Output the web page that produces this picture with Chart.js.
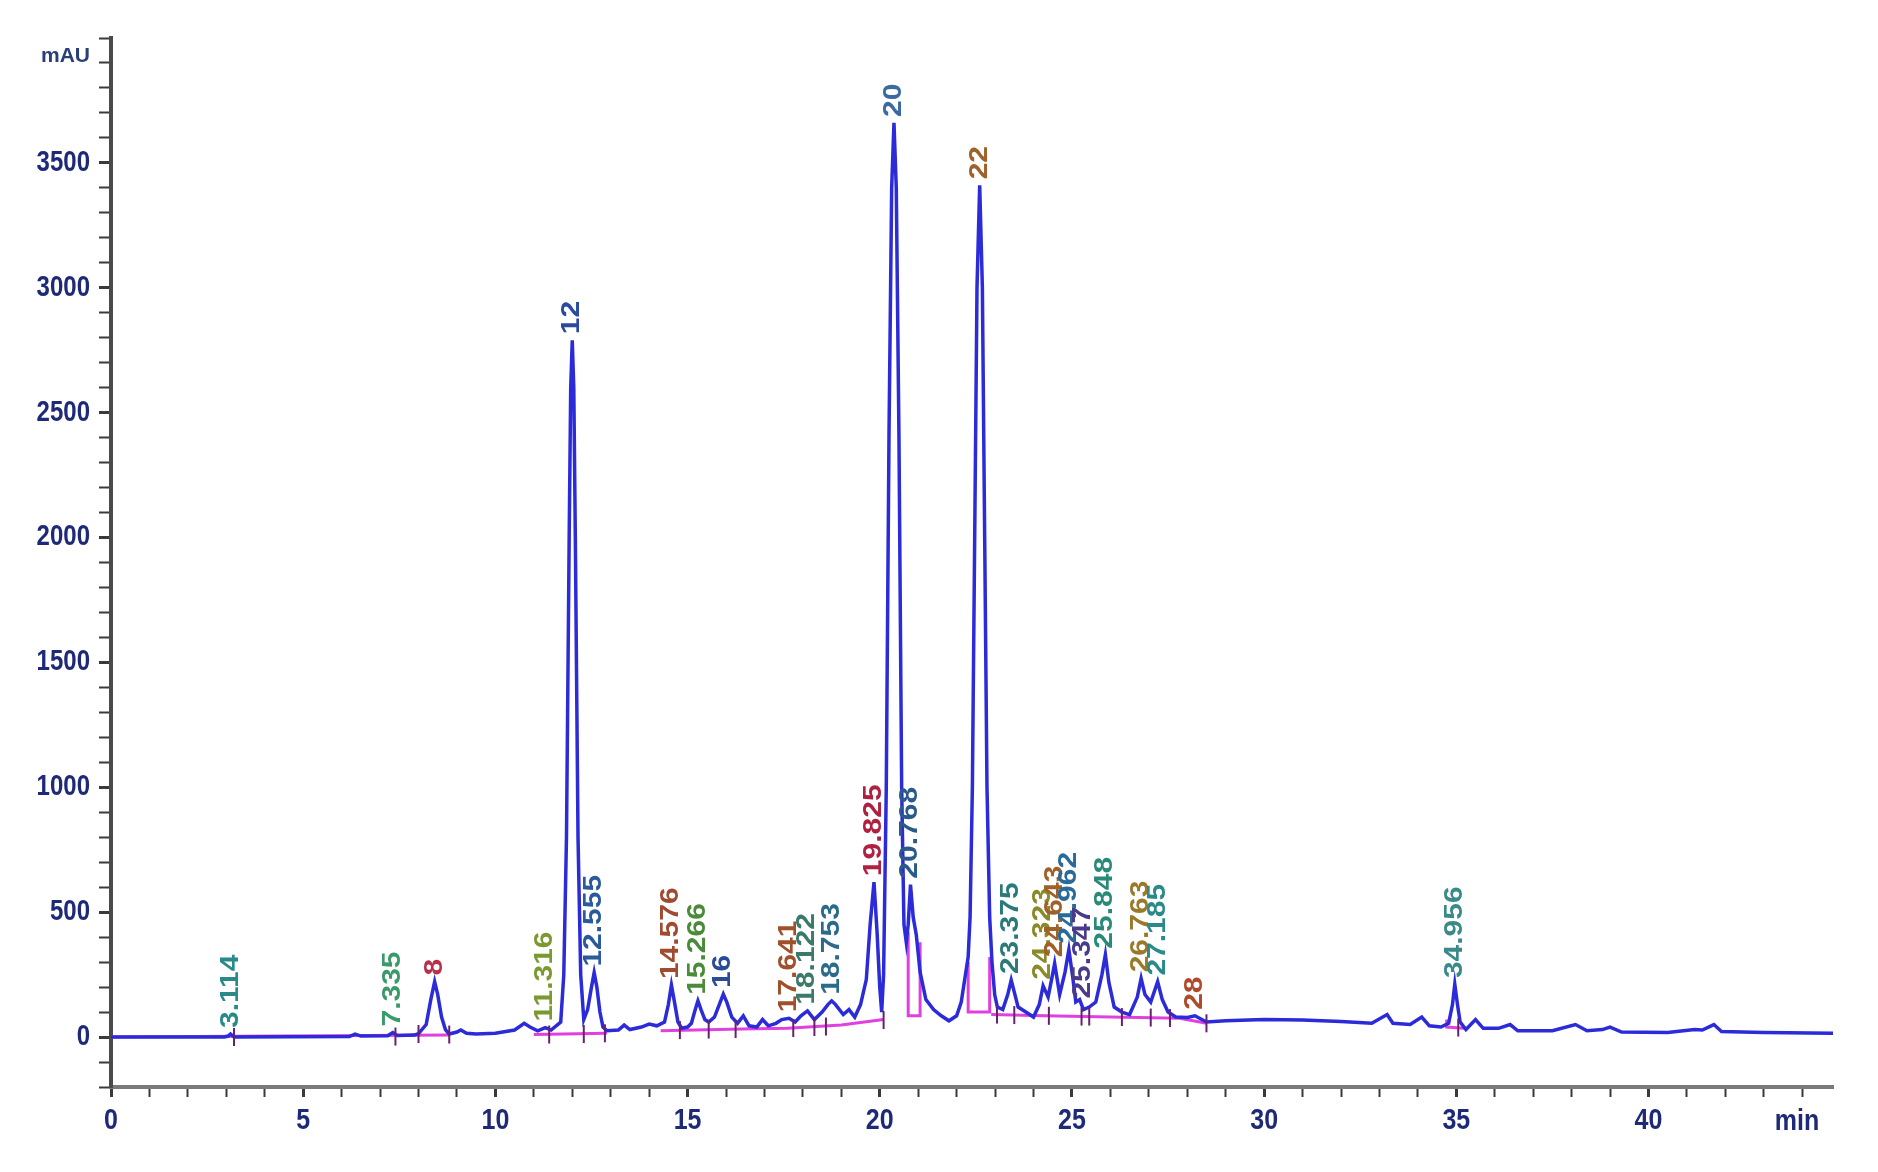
<!DOCTYPE html>
<html lang="fr">
<head>
<meta charset="utf-8">
<title>Chromatogramme HPLC</title>
<script src="https://cdn.jsdelivr.net/npm/chart.js@4.4.1/dist/chart.umd.min.js"></script>
<style>
    html, body { margin: 0; padding: 0; background: #ffffff; }
    canvas { display: block; }
</style>
</head>
<body>
<canvas id="chromatogramme" width="1878" height="1172"></canvas>
<script>
// ==========================================
//  DONNÉES DU SIGNAL (lues sur le chromatogramme)
// ==========================================
const temps = [
    0, 2.95, 3.05, 3.11, 3.2, 6.2, 6.35, 6.5, 7.2, 7.33, 7.45, 7.9, 8.0, 8.2, 8.32, 8.42, 8.5, 8.6, 8.7, 8.8,
    9.0, 9.1, 9.25, 9.5, 10.0, 10.5, 10.75, 10.9, 11.1, 11.3, 11.45, 11.7, 11.78, 11.85, 11.92, 11.96, 12.0, 12.04,
    12.08, 12.15, 12.22, 12.3, 12.4, 12.5, 12.57, 12.64, 12.72, 12.8, 12.9, 13.2, 13.35, 13.5, 13.8, 14.0, 14.2,
    14.4, 14.5, 14.58, 14.66, 14.75, 14.85, 15.0, 15.1, 15.2, 15.27, 15.35, 15.45, 15.55, 15.7, 15.85, 15.93, 16.02,
    16.15, 16.3, 16.45, 16.6, 16.8, 16.95, 17.1, 17.3, 17.45, 17.64, 17.8, 17.95, 18.12, 18.3, 18.5, 18.65, 18.75,
    18.85, 19.05, 19.2, 19.35, 19.5, 19.65, 19.75, 19.85, 19.93, 20.0, 20.05, 20.1, 20.17, 20.24, 20.31, 20.37,
    20.43, 20.5, 20.57, 20.63, 20.69, 20.74, 20.8, 20.87, 20.95, 21.05, 21.2, 21.4, 21.6, 21.8, 22.0, 22.12, 22.22,
    22.3, 22.35, 22.41, 22.47, 22.53, 22.6, 22.67, 22.73, 22.79, 22.86, 22.92, 22.99, 23.06, 23.2, 23.33, 23.42,
    23.5, 23.6, 23.8, 24.0, 24.15, 24.25, 24.38, 24.47, 24.55, 24.68, 24.82, 24.92, 25.02, 25.1, 25.2, 25.3,
    25.45, 25.62, 25.78, 25.87, 25.96, 26.1, 26.3, 26.5, 26.7, 26.8, 26.9, 27.05, 27.23, 27.35, 27.5, 27.7,
    28.0, 28.2, 28.5, 29, 30, 31, 32, 32.8, 33.2, 33.35, 33.8, 34.1, 34.3, 34.6, 34.8, 34.9, 34.96, 35.03,
    35.1, 35.25, 35.5, 35.7, 36.1, 36.4, 36.6, 37.5, 38.1, 38.4, 38.8, 39.0, 39.3, 40.5, 41.2, 41.4, 41.7,
    41.9, 43, 44.8
];
const absorbance = [
    0, 0, 4, 12, 0, 2, 12, 4, 5, 18, 6, 8, 14, 50, 150, 222, 170, 80, 30, 12,
    20, 28, 15, 12, 15, 28, 55, 40, 25, 38, 28, 60, 250, 800, 2000, 2600, 2790, 2600,
    2000, 800, 250, 70, 110, 200, 258, 200, 100, 40, 25, 28, 48, 30, 40, 52, 45,
    60, 130, 208, 140, 60, 35, 40, 55, 110, 145, 110, 70, 60, 80, 140, 172, 140,
    80, 55, 85, 45, 40, 70, 45, 55, 70, 75, 60, 85, 105, 70, 100, 130, 145,
    130, 90, 110, 80, 130, 230, 450, 620, 420, 200, 100, 250, 1000, 2400, 3400, 3660,
    3400, 2400, 1000, 450, 380, 450, 610, 480, 410, 260, 150, 110, 85, 65, 85, 140, 240,
    320, 480, 1000, 2000, 3000, 3410, 3000, 2000, 1000, 480, 300, 170, 120, 110, 170, 228,
    180, 120, 100, 80, 130, 205, 160, 230, 295, 170, 260, 350, 240, 140, 150, 110,
    120, 140, 250, 330, 220, 120, 100, 90, 160, 235, 170, 140, 222, 150, 100, 80,
    78, 85, 60, 65, 70, 68, 62, 55, 90, 55, 50, 80, 45, 40, 55, 130, 212, 130,
    60, 30, 70, 35, 35, 50, 25, 25, 50, 25, 30, 40, 20, 18, 30, 28, 50,
    22, 18, 15
];

// lignes de base d'intégration (null = coupure du tracé)
const baseTemps = [
    0, 8.8, null, 11.0, 12.9, null, 14.3, 16.4, 17.6, 19.0, 20.1, null,
    20.74, 20.74, 21.05, 21.05, null, 22.3, 22.3, 22.86, 22.86, null,
    22.9, 24.3, 26.0, 27.8, 28.5, null, 34.75, 34.75, 35.2
];
const baseValeurs = [
    0, 8, null, 10, 15, null, 25, 32, 35, 48, 70, null,
    420, 85, 85, 380, null, 300, 100, 100, 320, null,
    90, 85, 80, 75, 55, null, 70, 40, 35
];

// bornes de début / fin des pics intégrés
const borneTemps = [3.2, 7.4, 8.0, 8.8, 11.4, 12.3, 12.85, 14.8, 15.55, 16.25, 17.75, 18.3, 18.6, 20.1, 23.05, 23.5, 24.4, 25.25, 25.45, 26.3, 27.05, 27.55, 28.5, 35.05];
const borneValeurs = [0, 2, 12, 10, 10, 12, 15, 28, 30, 32, 36, 40, 42, 68, 90, 88, 85, 82, 82, 80, 78, 76, 55, 38];

// étiquettes des pics (temps de rétention)
const picEtiquettes = ["3.114", "7.335", "8", "11.316", "12", "12.555", "14.576", "15.266", "16", "17.641", "18.122", "18.753",
    "19.825", "20", "20.768", "22", "23.375", "24.323", "24.643", "24.962", "25.347", "25.848", "26.763", "27.185", "28", "34.956"];
const picTemps = [3.12, 7.33, 8.42, 11.3, 12.0, 12.57, 14.58, 15.27, 15.93, 17.64, 18.12, 18.75,
    19.85, 20.37, 20.8, 22.6, 23.42, 24.25, 24.55, 24.92, 25.3, 25.87, 26.8, 27.23, 28.2, 34.96];
const picHauteurs = [12, 18, 222, 38, 2790, 258, 208, 145, 172, 75, 105, 145,
    620, 3660, 610, 3410, 228, 205, 295, 350, 130, 330, 235, 222, 85, 212];
const picCouleurs = ["#2a8a8a", "#3a9a6a", "#b8304a", "#7a9a30", "#2a4aa0", "#2a5a9a", "#a04a30", "#4a8a3a", "#2a4a9a",
    "#a0502a", "#3a7a6a", "#2a6a8a", "#b02040", "#3a6aa0", "#2a5a8a", "#a0602a", "#2a7a7a", "#8a8a2a", "#a0602a",
    "#2a6a9a", "#4a3a8a", "#2a8a7a", "#9a7a2a", "#2a8a8a", "#b04a2a", "#3a8a8a"];

// graduations portant un libellé
const graduationsY = [0, 500, 1000, 1500, 2000, 2500, 3000, 3500];
const graduationsX = [0, 5, 10, 15, 20, 25, 30, 35, 40];

// ==========================================
//  PLUGINS : LIBELLÉS D'AXES ET ÉTIQUETTES VERTICALES
// ==========================================
const POLICE = '"Liberation Sans", Arial, sans-serif';
const ETIREMENT = 1.2; // l'original est légèrement étiré en hauteur

const libellesAxes = {
    id: 'libellesAxes',
    afterDraw(chart) {
        const { ctx, scales: { x, y } } = chart;
        ctx.save();
        ctx.fillStyle = '#1e2a78';
        ctx.font = 'bold 24px ' + POLICE;
        ctx.textBaseline = 'middle';

        // graduations verticales
        ctx.textAlign = 'right';
        graduationsY.forEach(v => {
            ctx.save();
            ctx.translate(y.left + y.width - 21, y.getPixelForValue(v));
            ctx.scale(1, ETIREMENT);
            ctx.fillText(String(v), 0, 0);
            ctx.restore();
        });

        // graduations horizontales
        ctx.textAlign = 'center';
        ctx.font = 'bold 25px ' + POLICE;
        graduationsX.forEach(v => {
            ctx.save();
            ctx.translate(x.getPixelForValue(v), x.top + 34);
            ctx.scale(1, ETIREMENT);
            ctx.fillText(String(v), 0, 0);
            ctx.restore();
        });

        // unités
        ctx.save();
        ctx.translate(1797, x.top + 35);
        ctx.scale(1, ETIREMENT);
        ctx.fillText('min', 0, 0);
        ctx.restore();

        ctx.textAlign = 'right';
        ctx.font = 'bold 21px ' + POLICE;
        ctx.fillStyle = '#28407a';
        ctx.fillText('mAU', 90, 56);
        ctx.restore();
    }
};

const etiquettesPics = {
    id: 'etiquettesPics',
    afterDatasetsDraw(chart) {
        const { ctx, scales: { x, y } } = chart;
        ctx.save();
        ctx.font = 'bold 25px ' + POLICE;
        ctx.textAlign = 'left';
        ctx.textBaseline = 'middle';
        picEtiquettes.forEach((texte, i) => {
            const px = x.getPixelForValue(picTemps[i]);
            const py = y.getPixelForValue(picHauteurs[i]) - 6;
            ctx.save();
            ctx.translate(px, py);
            ctx.rotate(-Math.PI / 2);
            ctx.scale(ETIREMENT, 1);
            ctx.fillStyle = picCouleurs[i];
            ctx.fillText(texte, 0, 0);
            ctx.restore();
        });
        ctx.restore();
    }
};

// ==========================================
//  GRAPHIQUE
// ==========================================
new Chart(document.getElementById('chromatogramme').getContext('2d'), {
    type: 'line',
    data: {
        datasets: [
            {
                label: 'Signal',
                data: temps.map((t, i) => ({ x: t, y: absorbance[i] })),
                borderColor: '#2b2bd9',
                borderWidth: 3.5,
                pointRadius: 0,
                tension: 0,
                order: 1
            },
            {
                label: 'Ligne de base',
                data: baseTemps.map((t, i) => ({ x: t === null ? baseTemps[i - 1] : t, y: baseValeurs[i] })),
                borderColor: '#e040e0',
                borderWidth: 3,
                pointRadius: 0,
                spanGaps: false,
                tension: 0,
                order: 2
            },
            {
                type: 'scatter',
                label: 'Bornes',
                data: borneTemps.map((t, i) => ({ x: t, y: borneValeurs[i] })),
                pointStyle: 'line',
                rotation: 90,
                pointRadius: 9,
                borderColor: '#6a2070',
                borderWidth: 2,
                order: 0
            }
        ]
    },
    options: {
        responsive: false,
        animation: false,
        layout: { padding: { top: 38, right: 45, left: 0, bottom: 0 } },
        plugins: { legend: { display: false }, tooltip: { enabled: false } },
        scales: {
            x: {
                type: 'linear',
                min: 0,
                max: 44.8,
                afterFit: s => { s.height = 85; },
                ticks: {
                    stepSize: 1,
                    autoSkip: false,
                    includeBounds: false,
                    maxRotation: 0,
                    callback: () => ''
                },
                grid: {
                    drawOnChartArea: false,
                    drawTicks: true,
                    tickLength: 10,
                    tickColor: '#3a3a3a',
                    tickWidth: c => (c.tick && graduationsX.includes(c.tick.value)) ? 3 : 2
                },
                border: { display: true, color: '#7a7a7a', width: 4 }
            },
            y: {
                min: -200,
                max: 4000,
                afterFit: s => { s.width = 111; },
                ticks: {
                    stepSize: 100,
                    autoSkip: false,
                    callback: () => ''
                },
                grid: {
                    drawOnChartArea: false,
                    drawTicks: true,
                    tickLength: 12,
                    tickColor: '#3a3a3a',
                    tickWidth: c => (c.tick && graduationsY.includes(c.tick.value)) ? 3 : 2
                },
                border: { display: true, color: '#4a4a4a', width: 4 }
            }
        }
    },
    plugins: [etiquettesPics, libellesAxes]
});
</script>
</body>
</html>
